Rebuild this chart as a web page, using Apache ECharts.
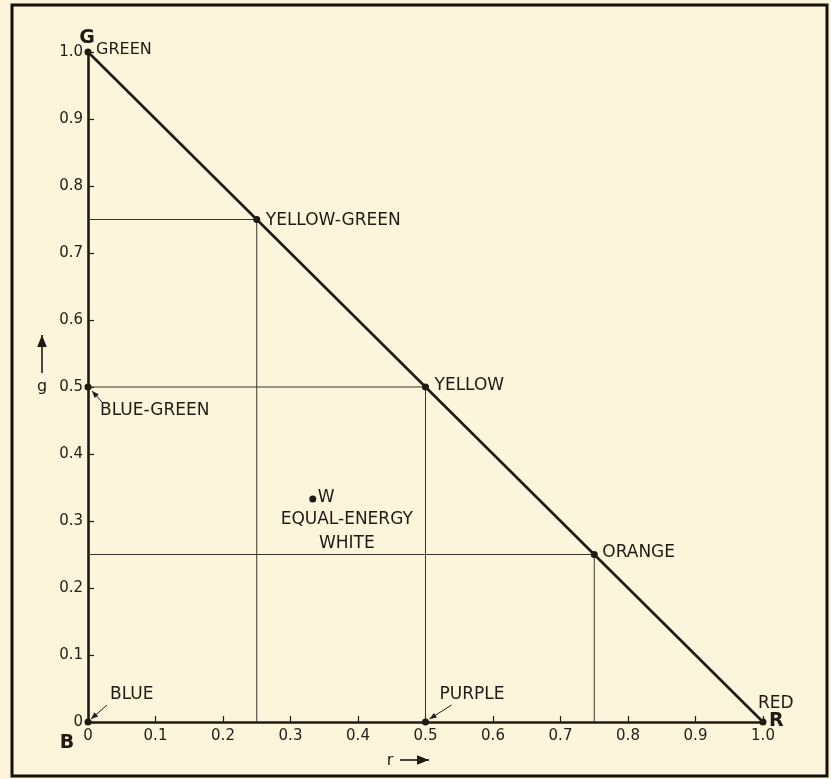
<!DOCTYPE html>
<html>
<head>
<meta charset="utf-8">
<script src="https://cdn.jsdelivr.net/npm/echarts@6/dist/echarts.min.js"></script>
<style>
html,body{margin:0;padding:0;background:#fcf5dc;}
#chart{width:831px;height:779px;}
</style>
</head>
<body>
<div id="chart"></div>
<script>
// ---- data ----
const tickValues = [0, 0.1, 0.2, 0.3, 0.4, 0.5, 0.6, 0.7, 0.8, 0.9, 1.0];
const tickLabels = ['0', '0.1', '0.2', '0.3', '0.4', '0.5', '0.6', '0.7', '0.8', '0.9', '1.0'];
const pointNames = ['GREEN', 'YELLOW-GREEN', 'YELLOW', 'ORANGE', 'RED', 'BLUE', 'BLUE-GREEN', 'PURPLE', 'W'];
const pointR = [0, 0.25, 0.5, 0.75, 1.0, 0, 0, 0.5, 0.333];
const pointG = [1.0, 0.75, 0.5, 0.25, 0, 0, 0.5, 0, 0.333];
const locusR = [0, 1.0];
const locusG = [1.0, 0];
const guideR = [[0, 0.25, 0.25], [0, 0.5, 0.5], [0, 0.75, 0.75]];
const guideG = [[0.75, 0.75, 0], [0.5, 0.5, 0], [0.25, 0.25, 0]];

// ---- styles ----
const INK = '#1f1a14';
const FONT = 'DejaVu Sans';
const chart = echarts.init(document.getElementById('chart'));

function fmt(v) {
  const i = tickValues.findIndex(t => Math.abs(t - v) < 1e-6);
  return i >= 0 ? tickLabels[i] : '';
}

const series = [];
guideR.forEach((rs, k) => {
  series.push({
    type: 'line', silent: true, symbol: 'none',
    data: rs.map((r, j) => [r, guideG[k][j]]),
    lineStyle: { color: '#3a332a', width: 1 }, z: 2
  });
});
series.push({
  type: 'line', silent: true, symbol: 'none',
  data: locusR.map((r, j) => [r, locusG[j]]),
  lineStyle: { color: INK, width: 2.6 }, z: 3
});
series.push({
  type: 'scatter', silent: true, symbolSize: 7,
  itemStyle: { color: INK, opacity: 1 },
  data: pointR.map((r, j) => [r, pointG[j]]), z: 5
});

chart.setOption({
  backgroundColor: '#fcf5dc',
  animation: false,
  grid: { left: 88, right: 68, top: 52, bottom: 57 },
  xAxis: {
    type: 'value', min: 0, max: 1, interval: 0.1,
    axisLine: { show: true, lineStyle: { color: INK, width: 2.6 } },
    axisTick: { show: true, inside: true, length: 6, lineStyle: { color: INK, width: 1.2 } },
    axisLabel: { formatter: fmt, color: '#25201a', fontFamily: FONT, fontSize: 15, margin: 7 },
    splitLine: { show: false }
  },
  yAxis: {
    type: 'value', min: 0, max: 1, interval: 0.1,
    axisLine: { show: true, lineStyle: { color: INK, width: 2.6 } },
    axisTick: { show: true, inside: true, length: 6, lineStyle: { color: INK, width: 1.2 } },
    axisLabel: { formatter: fmt, color: '#25201a', fontFamily: FONT, fontSize: 15, margin: 5 },
    splitLine: { show: false }
  },
  series: series
});

// ---- annotations (positioned relative to the data points) ----
function px(name) {
  const i = pointNames.indexOf(name);
  return chart.convertToPixel({ gridIndex: 0 }, [pointR[i], pointG[i]]);
}
const graphics = [];
function txt(name, s, dx, dy, opts) {
  const p = px(name);
  opts = opts || {};
  graphics.push({
    type: 'text', silent: true, z: 10,
    x: p[0] + dx, y: p[1] + dy,
    style: {
      text: s, fill: INK, fontFamily: FONT,
      fontSize: opts.size || 17, fontWeight: opts.bold ? 'bold' : 'normal',
      align: opts.align || 'left', verticalAlign: 'middle'
    }
  });
}
function arrow(x1, y1, x2, y2, w, head) {
  graphics.push({ type: 'line', silent: true, z: 10,
    shape: { x1: x1, y1: y1, x2: x2, y2: y2 },
    style: { stroke: INK, lineWidth: w } });
  const a = Math.atan2(y2 - y1, x2 - x1);
  const L = head, H = head * 0.4;
  const bx = x2 - L * Math.cos(a), by = y2 - L * Math.sin(a);
  graphics.push({ type: 'polygon', silent: true, z: 10,
    shape: { points: [[x2, y2],
      [bx + H * Math.sin(a), by - H * Math.cos(a)],
      [bx - H * Math.sin(a), by + H * Math.cos(a)]] },
    style: { fill: INK } });
}
function ptArrow(name, dx1, dy1, dx2, dy2) {
  const p = px(name);
  arrow(p[0] + dx1, p[1] + dy1, p[0] + dx2, p[1] + dy2, 1, 7);
}

txt('GREEN', 'G', -1, -14, { bold: true, size: 19, align: 'center' });
txt('GREEN', 'GREEN', 8, -2, { size: 16 });
txt('YELLOW-GREEN', 'YELLOW-GREEN', 9, 1);
txt('YELLOW', 'YELLOW', 9, -1);
txt('ORANGE', 'ORANGE', 8, -2);
txt('RED', 'RED', -5, -18);
txt('RED', 'R', 6, -1, { bold: true, size: 19 });
txt('BLUE', 'BLUE', 22, -27);
txt('BLUE', 'B', -21, 21, { bold: true, size: 19, align: 'center' });
txt('PURPLE', 'PURPLE', 14, -27);
txt('BLUE-GREEN', 'BLUE-GREEN', 12, 24);
txt('W', 'W', 5, -1);
txt('W', 'EQUAL-ENERGY', 34, 21, { align: 'center' });
txt('W', 'WHITE', 34, 45, { align: 'center' });
ptArrow('BLUE', 19, -17, 3, -3);
ptArrow('PURPLE', 26, -17, 4, -3);
ptArrow('BLUE-GREEN', 14, 15, 4, 4);

// axis names with arrows
graphics.push({ type: 'text', silent: true, z: 10, x: 42, y: 387,
  style: { text: 'g', fill: INK, fontFamily: FONT, fontSize: 16, align: 'center', verticalAlign: 'middle' } });
arrow(42, 373, 42, 335, 1.6, 12);
graphics.push({ type: 'text', silent: true, z: 10, x: 390, y: 761,
  style: { text: 'r', fill: INK, fontFamily: FONT, fontSize: 16, align: 'center', verticalAlign: 'middle' } });
arrow(400, 760, 429, 760, 1.6, 12);

// outer frame
graphics.push({ type: 'rect', silent: true, z: 1,
  shape: { x: 12, y: 5, width: 815, height: 771 },
  style: { fill: 'none', stroke: '#15110c', lineWidth: 3 } });

chart.setOption({ graphic: graphics });
</script>
</body>
</html>
